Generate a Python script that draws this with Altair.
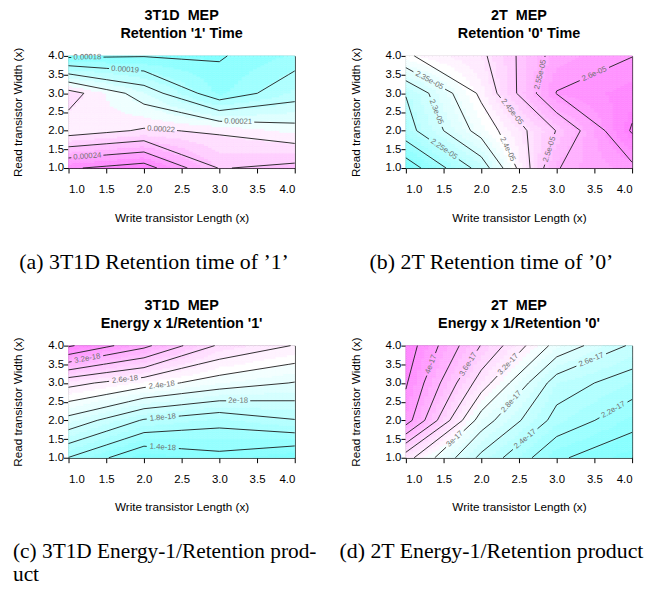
import colorsys
import math
import numpy as np
import pandas as pd
import altair as alt

# grid of the measurements (x = write transistor length, y = read transistor width)
XS = [1, 2, 3, 4]
YS = [1, 2, 3, 4]

# rows: y = 1, 2, 3, 4 ; columns: x = 1, 2, 3, 4
Z_A = [[2.490, 2.543, 2.295, 2.325],
       [2.155, 2.210, 2.188, 2.135],
       [2.237, 2.055, 1.838, 1.961],
       [1.780, 1.795, 1.793, 1.859]]          # x 1e-4
Z_B = [[2.120, 2.270, 2.548, 2.590],
       [2.230, 2.370, 2.502, 2.655],
       [2.252, 2.410, 2.602, 2.630],
       [2.395, 2.440, 2.570, 2.599]]          # x 1e-5
Z_C = [[1.595, 1.230, 1.345, 1.220],
       [2.135, 1.780, 1.665, 1.790],
       [2.660, 2.485, 2.305, 2.190],
       [3.630, 3.250, 2.770, 2.590]]          # x 1e-18
Z_D = [[3.280, 2.550, 2.030, 1.846],
       [4.100, 2.900, 2.330, 2.073],
       [4.220, 3.300, 2.500, 2.300],
       [4.310, 3.590, 2.930, 2.570]]          # x 1e-17

LAB_A_LEV = [1.8, 1.9, 2.1, 2.2, 2.4]
LAB_A_TXT = ["0.00018", "0.00019", "0.00021", "0.00022", "0.00024"]
LAB_B_LEV = [2.25, 2.3, 2.35, 2.4, 2.45, 2.5, 2.55, 2.6]
LAB_B_TXT = ["2.25e-05", "2.3e-05", "2.35e-05", "2.4e-05", "2.45e-05", "2.5e-05", "2.55e-05", "2.6e-05"]
LAB_C_LEV = [1.4, 1.8, 2.0, 2.4, 2.6, 3.2]
LAB_C_TXT = ["1.4e-18", "1.8e-18", "2e-18", "2.4e-18", "2.6e-18", "3.2e-18"]
LAB_D_LEV = [2.2, 2.4, 2.6, 2.8, 3.0, 3.2, 3.6, 4.0]
LAB_D_TXT = ["2.2e-17", "2.4e-17", "2.6e-17", "2.8e-17", "3e-17", "3.2e-17", "3.6e-17", "4e-17"]

NB = "\u00a0"
TITLES = [["3T1D" + NB + NB + "MEP", "Retention '1' Time"],
          ["2T" + NB + NB + "MEP", "Retention '0' Time"],
          ["3T1D" + NB + NB + "MEP", "Energy x 1/Retention '1'"],
          ["2T" + NB + NB + "MEP", "Energy x 1/Retention '0'"]]
CAPTIONS = [["(a) 3T1D Retention time of \u20191\u2019"],
            ["(b) 2T Retention time of \u20190\u2019"],
            ["(c) 3T1D Energy-1/Retention prod-", "uct"],
            ["(d) 2T Energy-1/Retention product"]]
TICKS = [1.0, 1.5, 2.0, 2.5, 3.0, 3.5, 4.0]
HALF = [1.5, 2.5, 3.5]

W, H = 228, 113
LAB_FS = 7.8


def cm_colors(n):
    even = (n % 2 == 0)
    k = n // 2
    l1 = k + 1 - int(even)
    l2 = n - k + int(even)
    out = []
    if l1 > 0:
        for s in np.linspace(0.5, (0.5 / k) if even else 0.0, l1):
            out.append(colorsys.hsv_to_rgb(6 / 12, s, 1))
    if l2 > 1:
        for s in np.linspace(0.0, 0.5, l2)[1:]:
            out.append(colorsys.hsv_to_rgb(10 / 12, s, 1))
    return ['#%02x%02x%02x' % tuple(int(round(c * 255)) for c in rgb) for rgb in out]


def bilinear(z, x, y):
    i = min(int(math.floor(x)) - 1, 2)
    j = min(int(math.floor(y)) - 1, 2)
    tx = x - XS[i]
    ty = y - YS[j]
    return float(z[j][i] * (1 - tx) * (1 - ty) + z[j][i + 1] * tx * (1 - ty)
                 + z[j + 1][i] * (1 - tx) * ty + z[j + 1][i + 1] * tx * ty)


def contour_segments(z, L):
    segs = []
    for j in range(3):
        for i in range(3):
            x0, x1, y0, y1 = XS[i], XS[i + 1], YS[j], YS[j + 1]
            a = z[j][i] - L
            b = z[j][i + 1] - L
            c = z[j + 1][i + 1] - L
            d = z[j + 1][i] - L

            def cross(p, q, va, vb):
                t = va / (va - vb)
                return (p[0] + t * (q[0] - p[0]), p[1] + t * (q[1] - p[1]))
            pts = {}
            if a * b < 0:
                pts['b'] = cross((x0, y0), (x1, y0), a, b)
            if b * c < 0:
                pts['r'] = cross((x1, y0), (x1, y1), b, c)
            if d * c < 0:
                pts['t'] = cross((x0, y1), (x1, y1), d, c)
            if a * d < 0:
                pts['l'] = cross((x0, y0), (x0, y1), a, d)
            if len(pts) == 2:
                v = list(pts.values())
                segs.append((v[0], v[1]))
            elif len(pts) == 4:
                ctr = (a + b + c + d) / 4
                pairs = [('b', 'r'), ('l', 't')] if ctr * a > 0 else [('b', 'l'), ('r', 't')]
                for p, q in pairs:
                    segs.append((pts[p], pts[q]))
    return segs


def split_half(seg):
    (xa, ya), (xb, yb) = seg
    ts = [0.0, 1.0]
    for h in HALF:
        if (xa - h) * (xb - h) < 0:
            ts.append((h - xa) / (xb - xa))
        if (ya - h) * (yb - h) < 0:
            ts.append((h - ya) / (yb - ya))
    ts = sorted(ts)
    out = []
    for t0, t1 in zip(ts[:-1], ts[1:]):
        if t1 - t0 > 1e-9:
            out.append(((xa + t0 * (xb - xa), ya + t0 * (yb - ya)),
                        (xa + t1 * (xb - xa), ya + t1 * (yb - ya))))
    return out


def pix(seg):
    (xa, ya), (xb, yb) = seg
    return math.hypot((xb - xa) * W / 3, (yb - ya) * H / 3)


def screen_angle(seg):
    (xa, ya), (xb, yb) = seg
    ang = math.degrees(math.atan2(-(yb - ya) * H / 3, (xb - xa) * W / 3))
    if ang > 90:
        ang -= 180
    if ang < -90:
        ang += 180
    return ang


def frame_axis(orient):
    return alt.Axis(orient=orient, labels=False, ticks=False, title=None, domain=True,
                    labelPadding=0, tickSize=0, minExtent=0, maxExtent=0, offset=0,
                    values=TICKS)


def make_panel(z, fill_step, line_step, lab_lev, lab_txt, title, caption, anchor, cap_fs, mode):
    flat = [v for row in z for v in row]
    zmin, zmax = min(flat), max(flat)
    lo = math.floor(zmin / fill_step + 1e-9)
    hi = math.ceil(zmax / fill_step - 1e-9)
    fill_lo = round(lo * fill_step, 6)
    fill_hi = round(hi * fill_step, 6)
    colors = cm_colors(hi - lo)

    # filled background
    n = 60
    edges = np.linspace(1, 4, n + 1)
    rows = []
    for jx in range(n):
        for jy in range(n):
            xc = (edges[jx] + edges[jx + 1]) / 2
            yc = (edges[jy] + edges[jy + 1]) / 2
            rows.append({"x0": float(edges[jx]), "x1": float(edges[jx + 1]),
                         "y0": float(edges[jy]), "y1": float(edges[jy + 1]),
                         "z": bilinear(z, xc, yc)})
    fill_df = pd.DataFrame(rows)

    # contour lines and their labels
    k0 = math.ceil(zmin / line_step)
    k1 = math.floor(zmax / line_step)
    seg_rows, lab_rows, placed = [], [], []
    for k in range(k0, k1 + 1):
        L = round(k * line_step, 6)
        segs = contour_segments(z, L)
        if not segs:
            continue
        txt = None
        for lv, tt in zip(lab_lev, lab_txt):
            if abs(lv - L) < 1e-6:
                txt = tt
        if mode == 'flat':
            cands = []
            for s in segs:
                cands.extend(split_half(s))
        else:
            cands = list(segs)
        if txt is not None:
            lw = len(txt) * LAB_FS * 0.52 + 4
            if mode == 'flat':
                order = sorted(range(len(cands)),
                               key=lambda q: (round(abs(screen_angle(cands[q])), 0),
                                              (cands[q][0][0] + cands[q][1][0]) / 2))
            else:
                order = sorted(range(len(cands)), key=lambda q: -pix(cands[q]))
            order = [q for q in order if pix(cands[q]) >= lw + 2] or order

            def clash(q):
                (xa, ya), (xb, yb) = cands[q]
                px = (xa + xb) / 2 * W / 3
                py = (ya + yb) / 2 * H / 3
                for (qx, qy, qw) in placed:
                    if abs(px - qx) < (lw + qw) / 2 and abs(py - qy) < 10:
                        return True
                return False
            free = [q for q in order if not clash(q)]
            bi = free[0] if free else order[0]
            (xa, ya), (xb, yb) = cands[bi]
            length = pix(cands[bi])
            mx, my = (xa + xb) / 2, (ya + yb) / 2
            placed.append((mx * W / 3, my * H / 3, lw))
            lab_rows.append({"x": mx, "y": my, "t": txt,
                             "a": screen_angle(cands[bi]) % 360})
            if length > lw:
                f = lw / 2 / length
                cands = cands[:bi] + cands[bi + 1:] + [
                    ((xa, ya), (mx - f * (xb - xa), my - f * (yb - ya))),
                    ((mx + f * (xb - xa), my + f * (yb - ya)), (xb, yb))]
            else:
                cands = cands[:bi] + cands[bi + 1:]
        for (xa, ya), (xb, yb) in cands:
            seg_rows.append({"x": xa, "y": ya, "x2": xb, "y2": yb})
    seg_df = pd.DataFrame(seg_rows)
    lab_df = pd.DataFrame(lab_rows)

    xs = alt.Scale(domain=[1, 4], nice=False, zero=False)
    ys = alt.Scale(domain=[1, 4], nice=False, zero=False)
    cs = alt.Scale(type='quantize', domain=[fill_lo, fill_hi], range=colors, nice=False, zero=False)

    fill = alt.Chart(fill_df).mark_rect(strokeWidth=0.6).encode(
        x=alt.X('x0:Q', scale=xs, axis=alt.Axis(values=TICKS, format='.1f', labelPadding=11,
                                                  titlePadding=17,
                                                  title='Write transistor Length (x)')),
        x2='x1:Q',
        y=alt.Y('y0:Q', scale=ys, axis=alt.Axis(values=TICKS, format='.1f', labelPadding=0,
                                                  titlePadding=24,
                                                  title='Read transistor Width (x)')),
        y2='y1:Q',
        color=alt.Color('z:Q', scale=cs, legend=None),
        stroke=alt.Stroke('z:Q', scale=cs, legend=None),
    )
    lines = alt.Chart(seg_df).mark_rule(color='#1a1a1a', strokeWidth=0.9).encode(
        x=alt.X('x:Q', scale=xs, axis=frame_axis('top')),
        x2='x2:Q',
        y=alt.Y('y:Q', scale=ys, axis=frame_axis('right')),
        y2='y2:Q',
    )
    labels = alt.Chart(lab_df).mark_text(font='Liberation Sans', fontSize=LAB_FS,
                                         color='#707070', align='center',
                                         baseline='middle').encode(
        x=alt.X('x:Q', scale=xs, axis=None),
        y=alt.Y('y:Q', scale=ys, axis=None),
        text='t:N',
        angle=alt.Angle('a:Q', scale=None),
    )
    panel = alt.layer(fill, lines, labels).resolve_axis(
        x='independent', y='independent').properties(
        width=W, height=H,
        title=alt.TitleParams(text=title, font='Liberation Sans', fontSize=14.5,
                              fontWeight='bold', color='black', anchor='middle',
                              frame='group', lineHeight=18, offset=6),
    )
    return alt.vconcat(panel).resolve_scale(color='independent', stroke='independent').properties(
        title=alt.TitleParams(text=caption, orient='bottom', font='Liberation Serif',
                              fontSize=cap_fs, fontWeight='normal', color='black',
                              anchor=anchor, lineHeight=22.5, offset=28),
    )


pa = make_panel(Z_A, 0.05, 0.1, LAB_A_LEV, LAB_A_TXT, TITLES[0], CAPTIONS[0], 'middle', 22, 'flat')
pb = make_panel(Z_B, 0.02, 0.05, LAB_B_LEV, LAB_B_TXT, TITLES[1], CAPTIONS[1], 'middle', 22, 'long')
pc = make_panel(Z_C, 0.1, 0.2, LAB_C_LEV, LAB_C_TXT, TITLES[2], CAPTIONS[2], 'start', 21.5, 'flat')
pd_ = make_panel(Z_D, 0.1, 0.2, LAB_D_LEV, LAB_D_TXT, TITLES[3], CAPTIONS[3], 'middle', 22, 'long')

chart = alt.concat(pa, pb, pc, pd_, columns=2, spacing={"row": 24, "column": 22}).resolve_scale(
    color='independent', stroke='independent'
).properties(padding={"left": 5, "top": -3, "right": 0, "bottom": 0}).configure_view(
    stroke=None
).configure_axis(
    domainColor='black', domainWidth=1, tickColor='black', tickSize=5, tickWidth=1,
    labelColor='black', titleColor='black', labelFont='Liberation Sans',
    titleFont='Liberation Sans', labelFontSize=11.5, titleFontSize=11.8,
    titleFontWeight='normal', grid=False, zindex=1,
)

chart.save("out.html", embed_options={"renderer": "svg", "actions": False})
